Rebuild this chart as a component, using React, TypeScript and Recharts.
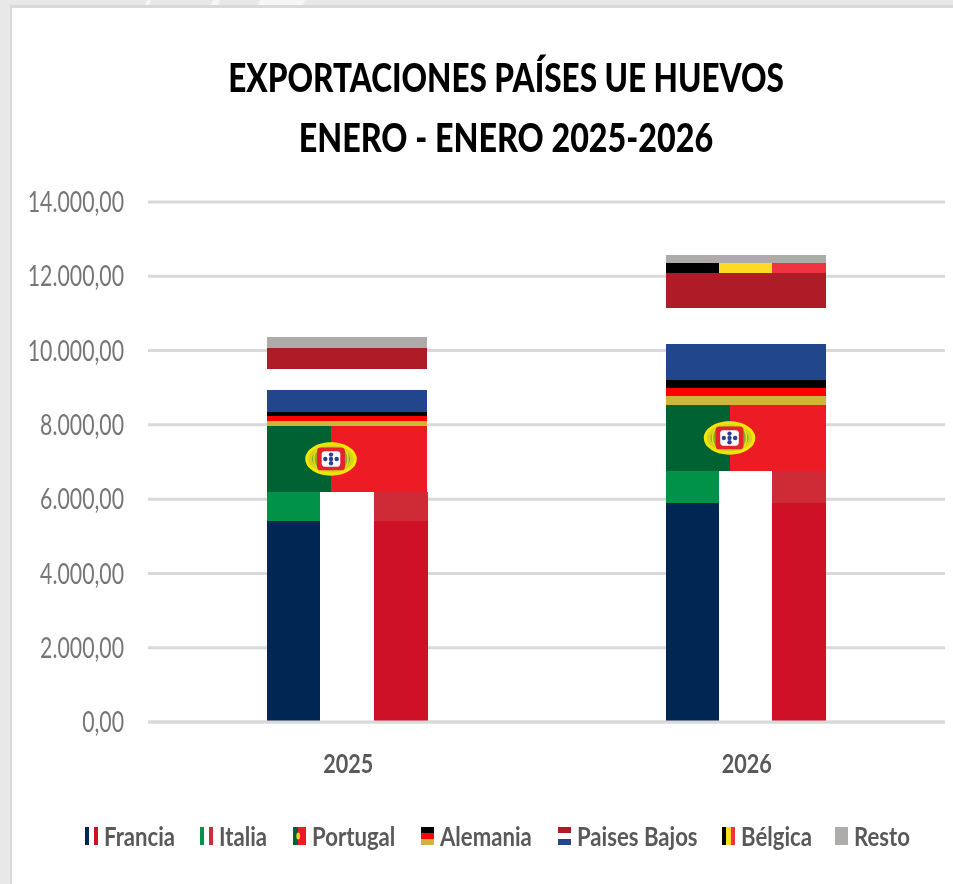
import { BarChart, Bar, XAxis, YAxis, CartesianGrid, Legend } from 'recharts';

const years = ['2025', '2026'];
const francia = [5400, 5905];
const italia = [780, 840];
const portugal = [1805, 1805];
const alemania = [388, 658];
const paisesBajos = [1715, 2889];
const belgica = [0, 275];
const resto = [287, 188];
const yTicks = [0, 2000, 4000, 6000, 8000, 10000, 12000, 14000];

const chartData = years.map((year, i) => ({
  year,
  francia: francia[i],
  italia: italia[i],
  portugal: portugal[i],
  alemania: alemania[i],
  paisesBajos: paisesBajos[i],
  belgica: belgica[i],
  resto: resto[i],
}));

const FONT = 'Lato, "Open Sans", sans-serif';

type Box = { x: number; y: number; width: number; height: number };

function VStripes({ x, y, width, height, colors }: Box & { colors: string[] }) {
  const w = width / colors.length;
  return (
    <g shapeRendering="crispEdges">
      {colors.map((c, i) => (
        <rect key={i} x={x + i * w} y={y} width={w + 0.5} height={height} fill={c} />
      ))}
    </g>
  );
}

function HStripes({ x, y, width, height, colors }: Box & { colors: string[] }) {
  const h = height / colors.length;
  return (
    <g shapeRendering="crispEdges">
      {colors.map((c, i) => (
        <rect key={i} x={x} y={y + i * h} width={width} height={h + 0.5} fill={c} />
      ))}
    </g>
  );
}

function PortugalFlag({ x, y, width, height }: Box) {
  const split = x + width * 0.4;
  const cy = y + height / 2;
  const rx = width / 6.2;
  const ry = height / 4;
  const big = width > 50;
  const dots = [[0, -0.26], [-0.22, 0], [0, 0], [0.22, 0], [0, 0.26]];
  return (
    <g>
      <rect x={x} y={y} width={width * 0.4 + 0.5} height={height} fill="#006233" shapeRendering="crispEdges" />
      <rect x={split} y={y} width={width * 0.6} height={height} fill="#ed1c24" shapeRendering="crispEdges" />
      {big ? (
        <>
          <ellipse cx={split} cy={cy} rx={rx * 0.94} ry={ry * 0.9} fill="#d8d21e" stroke="#f5e800" strokeWidth={3} />
          <ellipse cx={split} cy={cy} rx={rx * 0.74} ry={ry * 0.68} fill="#5f8f2a" opacity={0.6} />
          <ellipse cx={split} cy={cy} rx={rx * 0.66} ry={ry * 0.94} fill="none" stroke="#eadf12" strokeWidth={1.5} />
          <rect x={split - rx * 0.54} y={cy - ry * 0.68} width={rx * 1.08} height={ry * 1.36} rx={rx * 0.14} fill="#e3242b" />
          <rect x={split - rx * 0.36} y={cy - ry * 0.46} width={rx * 0.72} height={ry * 0.92} rx={rx * 0.12} fill="#ffffff" />
          {dots.map(([dx, dy], i) => (
            <circle key={i} cx={split + dx * rx} cy={cy + dy * ry} r={rx * 0.085} fill="#2d3f8f" />
          ))}
        </>
      ) : (
        <ellipse cx={split} cy={cy} rx={rx * 0.9} ry={ry * 0.8} fill="#e6d820" />
      )}
    </g>
  );
}

const flagArt: Record<string, (b: Box) => JSX.Element> = {
  francia: (b) => <VStripes {...b} colors={['#002654', '#ffffff', '#ce1126']} />,
  italia: (b) => <VStripes {...b} colors={['#009246', '#ffffff', '#ce2b37']} />,
  portugal: (b) => <PortugalFlag {...b} />,
  alemania: (b) => <HStripes {...b} colors={['#000000', '#ff0000', '#cfb53b']} />,
  paisesBajos: (b) => <HStripes {...b} colors={['#ae1c28', '#ffffff', '#21468b']} />,
  belgica: (b) => <VStripes {...b} colors={['#000000', '#fdda24', '#ef3340']} />,
  resto: (b) => <HStripes {...b} colors={['#afabab']} />,
};

const flagShape = (key: string) => (props: any) => {
  const { x, y, width, height } = props;
  if (!height) return <g />;
  return flagArt[key]({ x, y, width, height });
};

const series = [
  { key: 'francia', name: 'Francia' },
  { key: 'italia', name: 'Italia' },
  { key: 'portugal', name: 'Portugal' },
  { key: 'alemania', name: 'Alemania' },
  { key: 'paisesBajos', name: 'Paises Bajos' },
  { key: 'belgica', name: 'Bélgica' },
  { key: 'resto', name: 'Resto' },
];

const legendLeft = [85, 200, 293, 421, 558, 722, 835];

function FlagLegend() {
  return (
    <div style={{ position: 'relative', width: 860, height: 36 }}>
      {series.map((s, i) => (
        <div key={s.key} style={{ position: 'absolute', left: legendLeft[i] - 85, top: 0, height: 36 }}>
          <svg width={13} height={18} style={{ position: 'absolute', left: 0, top: 8 }}>
            {flagArt[s.key]({ x: 0, y: 0, width: 13, height: 18 })}
          </svg>
          <span
            style={{
              position: 'absolute',
              left: 19,
              top: -1,
              fontFamily: FONT,
              fontWeight: 700,
              fontSize: 27,
              lineHeight: '36px',
              color: '#595959',
              whiteSpace: 'nowrap',
              transform: 'scaleX(0.82)',
              transformOrigin: '0 50%',
            }}
          >
            {s.name}
          </span>
        </div>
      ))}
    </div>
  );
}

function YTick({ x, y, payload }: any) {
  const label = payload.value.toLocaleString('de-DE', { minimumFractionDigits: 2 });
  return (
    <text
      transform={`translate(${x},${y}) scale(0.76,1)`}
      textAnchor="end"
      dy="0.36em"
      fontFamily={FONT}
      fontSize={28}
      fill="#767676"
    >
      {label}
    </text>
  );
}

function XTick({ x, y, payload }: any) {
  return (
    <text
      transform={`translate(${x + 1},${y}) scale(0.8,1)`}
      textAnchor="middle"
      dy="0.36em"
      fontFamily={FONT}
      fontWeight={700}
      fontSize={27}
      fill="#595959"
    >
      {payload.value}
    </text>
  );
}

const titleLine = (top: number, scale: number): React.CSSProperties => ({
  position: 'absolute',
  left: 12,
  width: 988,
  top,
  textAlign: 'center',
  fontFamily: FONT,
  fontWeight: 900,
  fontSize: 40,
  lineHeight: '50px',
  color: '#000000',
  whiteSpace: 'nowrap',
  transform: `scaleX(${scale})`,
  transformOrigin: '50% 50%',
});

const streak = (left: number, width: number): React.CSSProperties => ({
  position: 'absolute',
  left,
  top: 0,
  width,
  height: 5,
  background: '#f6f6f6',
  clipPath: 'polygon(2px 0, 100% 0, calc(100% - 2px) 100%, 0 100%)',
});

export default function App() {
  return (
    <div style={{ position: 'absolute', left: 0, top: 0, width: 953, height: 884, overflow: 'hidden', background: '#e8e8e8', filter: 'blur(0.45px)' }}>
      <div style={streak(145, 6)} />
      <div style={streak(211, 9)} />
      <div style={streak(258, 47)} />
      <div style={{ position: 'absolute', left: 10, top: 5, width: 943, height: 879, background: '#ffffff', borderLeft: '2px solid #d9d9d9', borderTop: '3px solid #d9d9d9', boxSizing: 'border-box' }} />
      <div style={titleLine(52, 0.788)}>EXPORTACIONES PAÍSES UE HUEVOS</div>
      <div style={titleLine(112, 0.807)}>ENERO - ENERO 2025-2026</div>
      <BarChart
        width={953}
        height={884}
        data={chartData}
        margin={{ top: 202, right: 8, left: 0, bottom: 0 }}
        style={{ position: 'absolute', left: 0, top: 0 }}
      >
        <CartesianGrid stroke="#d9d9d9" strokeWidth={3} vertical={false} />
        <XAxis
          dataKey="year"
          height={162}
          axisLine={{ stroke: '#d9d9d9', strokeWidth: 3 }}
          tickLine={false}
          tickSize={0}
          tickMargin={41}
          tick={<XTick />}
        />
        <YAxis
          width={148}
          domain={[0, 14000]}
          ticks={yTicks}
          axisLine={false}
          tickLine={false}
          tickSize={0}
          tickMargin={24}
          tick={<YTick />}
        />
        <Legend
          verticalAlign="middle"
          align="center"
          content={<FlagLegend />}
          wrapperStyle={{ left: 85, top: 819, width: 860, height: 36 }}
        />
        {series.map((s) => (
          <Bar
            key={s.key}
            dataKey={s.key}
            name={s.name}
            stackId="total"
            barSize={160}
            shape={flagShape(s.key)}
            isAnimationActive={false}
          />
        ))}
      </BarChart>
    </div>
  );
}
